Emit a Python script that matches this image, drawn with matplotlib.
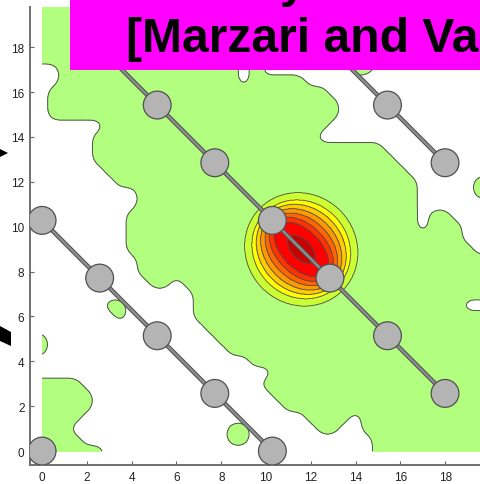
import matplotlib
matplotlib.use("Agg")
import matplotlib.pyplot as plt
import numpy as np
from matplotlib.patches import Circle, Polygon, Rectangle

# ---- data ----------------------------------------------------------------
# lowest contour level (green): green x-spans for each grid row y (step 0.5)
GRID_STEP = 0.5
GRID_MAX = 20.5
GREEN_SPANS = {
    20.5: [(0, 8.5), (9.5, 12), (13.5, 15.5)],
    20.0: [(0, 8.5), (9.5, 12), (13.5, 15.5)],
    19.5: [(0, 8.5), (9.5, 12), (13.5, 15.5)],
    19.0: [(0, 8.5), (9.5, 12), (13.5, 15.5)],
    18.5: [(0, 8.5), (9.5, 12), (13.5, 15.5)],
    18.0: [(0, 8.5), (9.5, 12), (13.5, 15.5)],
    17.5: [(0, 8.5), (9.5, 12), (13.5, 15.5)],
    17.0: [(1.0, 8.5), (9.5, 9.5), (14.0, 14.5)],
    16.5: [(1.0, 8.5), (9.5, 11.5)],
    16.0: [(0.5, 12.5)],
    15.5: [(0.5, 13.0)],
    15.0: [(0.5, 13.0)],
    14.5: [(3.0, 12.5)],
    14.0: [(2.5, 12.0)],
    13.5: [(2.5, 15.0)],
    13.0: [(2.5, 15.5)],
    12.5: [(3.0, 16.0)],
    12.0: [(3.5, 16.5), (19.5, 20.0)],
    11.5: [(4.5, 16.5), (19.5, 20.0)],
    11.0: [(4.5, 16.5)],
    10.5: [(4.0, 16.5), (17.5, 18.0)],
    10.0: [(4.0, 16.5), (17.5, 18.5)],
    9.5: [(4.0, 18.5)],
    9.0: [(4.0, 19.0)],
    8.5: [(4.5, 20.5)],
    8.0: [(4.5, 20.5)],
    7.5: [(5.0, 5.5), (6.5, 20.5)],
    7.0: [(7.0, 20.5)],
    6.5: [(3.0, 3.5), (7.0, 18.5)],
    6.0: [(3.5, 3.5), (7.0, 20.5)],
    5.5: [(7.5, 20.5)],
    5.0: [(0, 0), (8.0, 20.5)],
    4.5: [(0, 0), (8.5, 20.5)],
    4.0: [(9.5, 20.5)],
    3.5: [(10.5, 20.5)],
    3.0: [(0, 1.5), (10.0, 20.5)],
    2.5: [(0, 2.0), (10.5, 20.5)],
    2.0: [(0, 2.0), (11.0, 20.5)],
    1.5: [(0, 1.5), (12.0, 13.5), (14.5, 20.5)],
    1.0: [(0, 1.0), (8.5, 9.0), (12.5, 13.0), (14.5, 20.5)],
    0.5: [(0, 1.5), (8.5, 9.0), (15.0, 20.5)],
    0.0: [(0, 2.5), (15.0, 20.5)],
}

# central peak: semi-axes of each contour ring, along and across the bond
BLOB_CENTER = (11.57, 8.99)
BLOB_ALONG = [2.6, 2.3, 2.15, 2.0, 1.85, 1.7, 1.5, 0.75]
BLOB_ACROSS = [2.45, 2.1, 1.85, 1.6, 1.35, 1.1, 0.85, 0.42]
LEVEL_COLORS = ["#b2ff80", "#ccff33", "#ffff00", "#ffcc00", "#ff9900",
                "#ff6600", "#ff3300", "#ff0000", "#c80000"]

# atom chains
CHAIN1_X = [0, 2.57, 5.14, 7.71, 10.28]
CHAIN1_Y = [10.28, 7.71, 5.14, 2.57, 0]
CHAIN2_X = [2.57, 5.14, 7.71, 10.28, 12.85, 15.42, 17.99]
CHAIN2_Y = [17.99, 15.42, 12.85, 10.28, 7.71, 5.14, 2.57]
CHAIN3_X = [12.85, 15.42, 17.99]
CHAIN3_Y = [17.99, 15.42, 12.85]
LONE_X = [0]
LONE_Y = [0]
ATOM_R = 0.62

TICKS = list(range(0, 19, 2))

TITLE_TOP = "Density matrix"
TITLE_BOTTOM = "[Marzari and Va"

FIG_W, FIG_H = 480, 485


def px_to_fig(x, y):
    return x / FIG_W, 1 - y / FIG_H


def smooth_mask(xs, ys, mask, step=0.1, width=7):
    """Bilinear resample of the coarse mask, then a light box blur."""
    fx = np.arange(xs[0], xs[-1] + 1e-6, step)
    fy = np.arange(ys[0], ys[-1] + 1e-6, step)
    rows = np.array([np.interp(fx, xs, r) for r in mask])
    fine = np.array([np.interp(fy, ys, c) for c in rows.T]).T
    kernel = np.ones(width) / width
    pad = width // 2
    for axis in (0, 1):
        padded = np.pad(fine, [(pad, pad) if a == axis else (0, 0) for a in (0, 1)],
                        mode="edge")
        fine = np.apply_along_axis(lambda v: np.convolve(v, kernel, mode="valid"),
                                   axis, padded)
    return fx, fy, fine


fig = plt.figure(figsize=(FIG_W / 100, FIG_H / 100), dpi=100)
plt.rcParams["font.family"] = ["Liberation Sans", "DejaVu Sans"]

ax = fig.add_axes([30 / FIG_W, 19 / FIG_H, 455.6 / FIG_W, 458 / FIG_H])
ax.set_xlim(-0.54, 19.8)
ax.set_ylim(-0.62, 19.79)

# green background level from the grid
xs = np.arange(0, GRID_MAX + 1e-6, GRID_STEP)
ys = np.arange(0, GRID_MAX + 1e-6, GRID_STEP)
mask = np.zeros((len(ys), len(xs)))
for y, spans in GREEN_SPANS.items():
    j = int(round(y / GRID_STEP))
    for a, b in spans:
        mask[j, (xs >= a - 1e-6) & (xs <= b + 1e-6)] = 1
fx, fy, field = smooth_mask(xs, ys, mask)
ax.contourf(fx, fy, field, levels=[0.5, 1.5], colors=[LEVEL_COLORS[0]], zorder=1)
ax.contour(fx, fy, field, levels=[0.5], colors="#505050", linewidths=0.7, zorder=1.5)

# central peak rings
cx, cy = BLOB_CENTER
bx = np.linspace(cx - 3.2, cx + 3.2, 321)
by = np.linspace(cy - 3.2, cy + 3.2, 321)
BX, BY = np.meshgrid(bx, by)
u = ((BX - cx) - (BY - cy)) / np.sqrt(2)
w = ((BX - cx) + (BY - cy)) / np.sqrt(2)
level = np.ones_like(BX)
for a, b in zip(BLOB_ALONG, BLOB_ACROSS):
    level += ((u / a) ** 2 + (w / b) ** 2 < 1)
blob_levels = np.arange(1.5, 10, 1)
ax.contourf(bx, by, level, levels=blob_levels, colors=LEVEL_COLORS[1:], zorder=2)
ax.contour(bx, by, level, levels=blob_levels[:-1], colors="#505050",
           linewidths=0.6, zorder=2.5)

# bonds and atoms
for cxs, cys in [(CHAIN1_X, CHAIN1_Y), (CHAIN2_X, CHAIN2_Y), (CHAIN3_X, CHAIN3_Y)]:
    ax.plot(cxs, cys, color="#555555", lw=3.2, solid_capstyle="butt", zorder=3)
    ax.plot(cxs, cys, color="#8e8e8e", lw=1.6, solid_capstyle="butt", zorder=3.1)
for cxs, cys in [(CHAIN1_X, CHAIN1_Y), (CHAIN2_X, CHAIN2_Y),
                 (CHAIN3_X, CHAIN3_Y), (LONE_X, LONE_Y)]:
    for x, y in zip(cxs, cys):
        ax.add_patch(Circle((x, y), ATOM_R, facecolor="#b4b4b4",
                            edgecolor="#505050", lw=0.9, zorder=4))

ax.set_xticks(TICKS)
ax.set_yticks(TICKS)
ax.tick_params(direction="in", length=3, width=0.8, color="#666666",
               labelsize=8.5, labelcolor="#222222", pad=4)
for side in ["top", "right"]:
    ax.spines[side].set_visible(False)
for side in ["left", "bottom"]:
    ax.spines[side].set_color("#707070")
    ax.spines[side].set_linewidth(1.4)

# slide overlay: title box and arrow fragments
fig.add_artist(Rectangle(px_to_fig(70, 71), 1, 1, transform=fig.transFigure,
                         facecolor="#ff00ff", edgecolor="none", zorder=10))
fig.text(*px_to_fig(126, 52), TITLE_BOTTOM, fontsize=34.6,
         fontweight="bold", va="baseline", ha="left", color="black", zorder=11)
fig.text(*px_to_fig(133, -3), TITLE_TOP, fontsize=34.6,
         fontweight="bold", va="baseline", ha="left", color="black", zorder=11)
fig.add_artist(Polygon([px_to_fig(0, 150), px_to_fig(8, 154), px_to_fig(0, 158)],
                       closed=True, transform=fig.transFigure,
                       facecolor="black", edgecolor="none", zorder=10))
fig.add_artist(Polygon([px_to_fig(0, 327), px_to_fig(11, 333), px_to_fig(11, 347),
                        px_to_fig(0, 342)],
                       closed=True, transform=fig.transFigure,
                       facecolor="black", edgecolor="none", zorder=10))

fig.savefig("out.png", dpi=100)
